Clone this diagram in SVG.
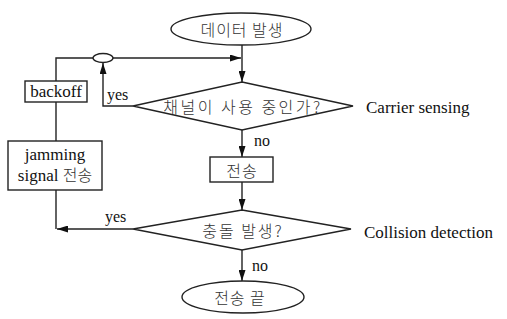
<svg xmlns="http://www.w3.org/2000/svg" width="507" height="319" viewBox="0 0 507 319">
<style>
.shape{fill:#fff;stroke:#222;stroke-width:1.4}
.ko{font-family:"Noto Sans CJK KR","Noto Sans",sans-serif;font-size:16px;font-weight:300;fill:#333;text-anchor:middle;dominant-baseline:central;letter-spacing:1px}
.en{font-family:"Liberation Serif",serif;font-size:17px;fill:#111}
.lbl{font-family:"Liberation Serif",serif;font-size:16px;fill:#111}
.line{fill:none;stroke:#222;stroke-width:1.4}
</style>
<defs>
<marker id="arr" viewBox="0 0 11 7" refX="11" refY="3.5" markerWidth="11" markerHeight="7" markerUnits="userSpaceOnUse" orient="auto">
<path d="M0,0 L11,3.5 L0,7 Z" fill="#111"/>
</marker>
</defs>
<rect width="507" height="319" fill="#fff"/>
<g id="connectors">
<path class="line" d="M242,45 V82" marker-end="url(#arr)"/>
<path class="line" d="M56,81 V58 H93"/>
<path class="line" d="M113,58 H241" marker-end="url(#arr)"/>
<path class="line" d="M133,106 H103 V63" marker-end="url(#arr)"/>
<path class="line" d="M242,130 V157" marker-end="url(#arr)"/>
<path class="line" d="M242,182 V210" marker-end="url(#arr)"/>
<path class="line" d="M56,102 V141"/>
<path class="line" d="M56,190 V229"/>
<path class="line" d="M133,229 H57" marker-end="url(#arr)"/>
<path class="line" d="M242,250 V281" marker-end="url(#arr)"/>
</g>
<g id="start">
<ellipse class="shape" cx="241" cy="29" rx="70" ry="16"/>
<text class="ko" x="242" y="29">데이터 발생</text>
</g>
<g id="junction">
<ellipse class="shape" cx="103" cy="58" rx="10" ry="4.5"/>
</g>
<g id="carrier">
<polygon class="shape" points="242,82 353,106 242,130 133,106"/>
<text class="ko" x="243" y="106" style="letter-spacing:2.5px">채널이 사용 중인가?</text>
<text class="en" x="366" y="113">Carrier sensing</text>
<text class="lbl" x="107" y="100">yes</text>
<text class="lbl" x="254" y="146">no</text>
</g>
<g id="send">
<rect class="shape" x="210" y="157" width="63" height="25"/>
<text class="ko" x="242" y="170">전송</text>
</g>
<g id="collision">
<polygon class="shape" points="242,210 351,229 242,250 133,229"/>
<text class="ko" x="243" y="230" style="letter-spacing:2px">충돌 발생?</text>
<text class="en" x="364" y="238">Collision detection</text>
<text class="lbl" x="105" y="222">yes</text>
<text class="lbl" x="252" y="271">no</text>
</g>
<g id="end">
<ellipse class="shape" cx="243" cy="297" rx="61" ry="16"/>
<text class="ko" x="240" y="297">전송 끝</text>
</g>
<g id="backoff">
<rect class="shape" x="25" y="81" width="62" height="21"/>
<text class="en" x="56" y="97" text-anchor="middle">backoff</text>
</g>
<g id="jamming">
<rect class="shape" x="8" y="141" width="94" height="49"/>
<text class="en" x="55" y="160" text-anchor="middle">jamming</text>
<text x="55" y="181" text-anchor="middle"><tspan class="en">signal </tspan><tspan style="font-family:'Noto Sans CJK KR',sans-serif;font-size:16px;font-weight:300;fill:#333">전송</tspan></text>
</g>
</svg>
